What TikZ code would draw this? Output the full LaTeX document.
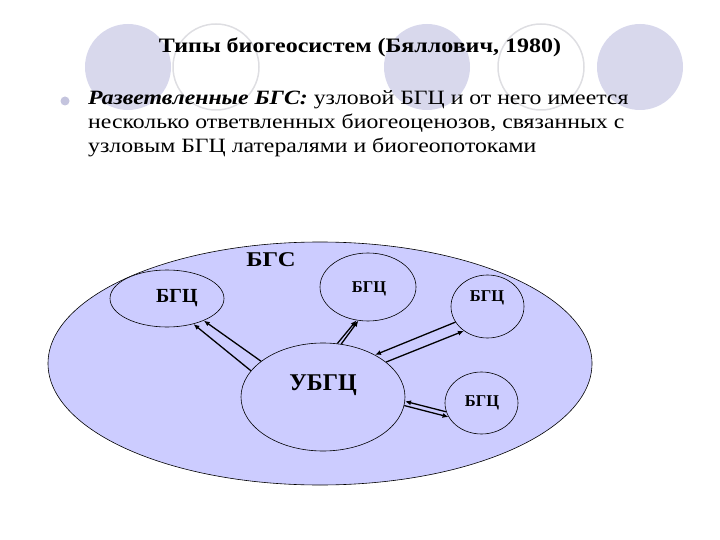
\documentclass[tikz,border=0pt]{standalone}
\usepackage{fontspec}
\setmainfont{Liberation Serif}
\newfontfamily\wideserif{Liberation Serif}[FakeStretch=1.17]
\usetikzlibrary{shapes.geometric,arrows.meta}
\definecolor{decofill}{RGB}{216,216,236}
\definecolor{decoline}{RGB}{222,222,226}
\definecolor{bulletfill}{RGB}{196,196,222}
\definecolor{bgsfill}{RGB}{204,204,255}
\tikzset{
  deco/.style={circle,fill=decofill,minimum size=86pt,inner sep=0pt},
  decoring/.style={circle,draw=decoline,line width=1.5pt,minimum size=86pt,inner sep=0pt},
  ell/.style={ellipse,draw=black,line width=0.6pt,fill=bgsfill,inner sep=0pt},
  lab/.style={font=\bfseries,inner sep=0pt,anchor=center},
  arr/.style={line width=1.3pt,-{Latex[length=6pt,width=5pt]}},
  txt/.style={inner sep=0pt,anchor=base west,font=\wideserif\fontsize{20.3}{24}\selectfont}
}
\begin{document}
\begin{tikzpicture}[x=1pt,y=-1pt]
\useasboundingbox (0,0) rectangle (720,540);
% decorative circles
\node[deco] (c1) at (128,67) {};
\node[decoring] (c2) at (216,67) {};
\node[deco] (c3) at (427,67) {};
\node[decoring] (c4) at (541,67) {};
\node[deco] (c5) at (640,67) {};
% title
\node[inner sep=0pt,anchor=base,font=\wideserif\fontsize{20.5}{24}\selectfont\bfseries] (title) at (360,53) {Типы биогеосистем (Бяллович, 1980)};
% bullet
\node[circle,fill=bulletfill,minimum size=9pt,inner sep=0pt] (bullet) at (65,101) {};
\node[txt] (l1) at (88,105) {\textbf{\textit{Разветвленные БГС:}} узловой БГЦ и от него имеется};
\node[txt] (l2) at (88,129) {несколько ответвленных биогеоценозов, связанных с};
\node[txt] (l3) at (88,153) {узловым БГЦ латералями и биогеопотоками};
% diagram
\node[ell,minimum width=544pt,minimum height=243pt] (bgs) at (320,363.5) {};
\node[ell,minimum width=114pt,minimum height=57pt] (g1) at (167,298.5) {};
\node[ell,minimum width=96pt,minimum height=68pt] (g2) at (368,287) {};
\node[ell,minimum width=73pt,minimum height=63pt] (g3) at (487.5,306.5) {};
\node[ell,minimum width=73pt,minimum height=62pt] (g4) at (481.5,403) {};
\node[ell,minimum width=164pt,minimum height=108pt] (u) at (323,397) {};
% labels
\node[lab,font=\wideserif\fontsize{21}{26}\selectfont\bfseries] (tbgs) at (271,260) {БГС};
\node[lab,font=\fontsize{20}{22}\selectfont\bfseries] (t1) at (177,298) {БГЦ};
\node[lab,font=\fontsize{16.5}{19}\selectfont\bfseries] (t2) at (369,289) {БГЦ};
\node[lab,font=\fontsize{16.5}{19}\selectfont\bfseries] (t3) at (487,298) {БГЦ};
\node[lab,font=\fontsize{16.5}{19}\selectfont\bfseries] (t4) at (482,403) {БГЦ};
\node[lab,font=\fontsize{24}{28}\selectfont\bfseries] (tu) at (323,385) {УБГЦ};
% arrows
\draw[arr] (u.160.6) -- (g1.316.8);
\draw[arr] (u.150.4) -- (g1.329.6);
\draw[arr] (u.75.5) -- (g2.251);
\draw[arr] (u.71.6) -- (g2.254);
\draw[arr] (g3.206.2) -- (u.39.2);
\draw[arr] (u.29.7) -- (g3.226.1);
\draw[arr] (g4.194.6) -- (u.357.2);
\draw[arr] (u.354.5) -- (g4.203.3);
\end{tikzpicture}
\end{document}
